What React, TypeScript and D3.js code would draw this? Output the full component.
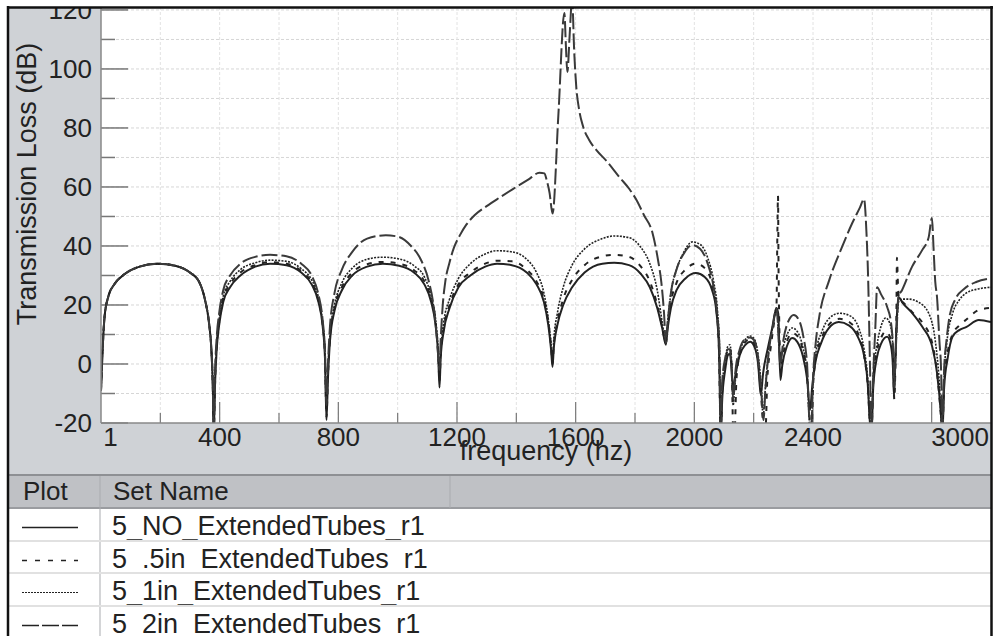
import React from "react";
import * as d3 from "d3";

type Pt = [number, number];

// frequency (Hz), transmission loss (dB)
const noExtended: Pt[] = [
  [0,-9],[5,4],[12,16],[25,23],[45,27],[80,30.5],[130,33],[190,34],[250,33.3],[300,31],[330,28],[350,22],[364,14],[372,5],[377,-8],[380,-24],
  [384,-8],[390,5],[398,13],[412,21],[435,26],[470,30],[520,33],[570,34],[625,33.5],[675,31],[710,27],[733,21],[747,13],[755,2],[760,-19],
  [765,-5],[772,8],[787,18],[812,25],[847,30],[897,33],[950,34],[1005,33.3],[1055,31],[1090,27],[1113,21],[1128,13],[1137,2],[1141,-8],
  [1145,2],[1155,11],[1175,19],[1205,26],[1245,30],[1295,33],[1335,34],[1385,33.5],[1435,31],[1468,27],[1493,21],[1508,13],[1517,5],[1522,-1],
  [1526,5],[1538,13],[1558,20],[1588,26],[1630,31],[1690,34],[1730,34.3],[1780,33.5],[1820,30.5],[1850,26],[1875,19],[1892,12],[1904,6.5],
  [1910,12],[1921,19],[1940,25],[1970,29],[2005,30.8],[2035,29.5],[2060,25],[2074,18],[2083,5],[2089,-24],
  [2094,-12],[2104,-2],[2113,3],[2120,3.5],[2126,-2],[2131,-9],[2138,-4],[2153,3],[2172,6.5],[2188,7.5],[2202,6],[2215,0],[2224,-10.5],[2232,-3],
  [2247,5],[2262,12],[2277,19],[2283,17],[2290,-5.4],[2297,0],[2312,6],[2330,8.8],[2347,7.5],[2365,3],[2380,-5],[2390,-15.6],[2397,-8],[2407,0],
  [2427,7],[2452,12],[2487,14.2],[2522,13],[2552,9],[2572,3],[2584,-6],[2592,-20],[2597,-24],[2603,-8],[2615,2],[2630,7],[2650,9.2],[2663,6],
  [2669,0],[2673,-11],[2677,0],[2682,15],[2688,22.7],[2702,20.7],[2735,17.2],[2769,12.5],[2802,5.8],[2818,-3],[2831,-16.6],[2836,-24],[2842,-8],
  [2854,2],[2870,9.2],[2893,11.5],[2916,12.5],[2959,14.9],[3000,14.2],
];

const halfInch: Pt[] = [
  [0,-9],[5,4],[12,16],[25,23],[45,27],[80,30.5],[130,33],[190,34],[250,33.3],[300,31],[330,28],[350,22],[364,14],[372,5],[377,-8],[380,-24],
  [384,-8],[390,6],[398,14],[412,22],[435,27],[470,31],[520,33.5],[570,34.5],[625,34],[675,31.5],[710,27.5],[733,21.5],[747,13.5],[755,3],[760,-18],
  [765,-4],[772,9],[787,19],[812,26],[847,31],[897,33.8],[950,34.6],[1005,34],[1055,31.8],[1090,28],[1113,22],[1128,14],[1137,3],[1141,-6],
  [1145,3],[1155,12],[1175,20],[1205,27],[1245,31],[1295,34],[1335,35],[1385,34.8],[1435,32],[1468,28],[1493,22],[1508,14],[1517,6],[1522,0],
  [1526,6],[1538,14],[1558,22],[1588,28.5],[1630,33.5],[1690,36.5],[1730,37],[1780,36.3],[1820,33],[1850,28],[1875,20],[1892,12.5],[1904,7],
  [1910,13],[1921,21],[1940,27.5],[1970,32],[2005,34],[2035,32.5],[2060,27],[2074,19],[2083,5],[2089,-24],
  [2094,-10],[2104,0],[2113,5],[2120,5.5],[2126,-1],[2131,-22],[2136,-22],[2142,-5],[2155,4],[2172,7.5],[2188,8.5],[2202,7],[2215,1],[2226,-12],
  [2234,-22],[2240,-22],[2246,-5],[2258,6],[2270,15],[2277,20],[2280,45],[2282,57],[2284,30],[2291,0],[2298,3],[2313,8],[2330,10.5],[2347,9.5],
  [2365,5],[2380,-4],[2390,-20],[2395,-24],[2400,-8],[2410,2],[2430,9],[2455,13.5],[2490,15.3],[2525,14],[2553,10],[2572,3],[2585,-8],[2592,-20],
  [2597,-24],[2603,-6],[2615,4],[2630,9],[2645,11],[2660,9],[2670,2],[2674,-12],[2678,0],[2681,15],[2683,36],[2686,28],[2690,22],[2702,21],
  [2735,17.5],[2769,14],[2802,7],[2818,-3],[2830,-16],[2836,-24],[2842,-6],[2854,4],[2870,10],[2893,13],[2916,15],[2959,18.3],[3000,19],
];

const oneInch: Pt[] = [
  [0,-9],[5,4],[12,16],[25,23],[45,27],[80,30.5],[130,33],[190,34],[250,33.3],[300,31],[330,28],[350,22],[364,14],[372,5],[377,-8],[380,-24],
  [384,-6],[390,7],[398,15],[412,23],[435,28],[470,32],[520,34.3],[570,35.2],[625,34.8],[675,32.3],[710,28.5],[733,22.5],[747,14],[755,3],[760,-16],
  [765,-2],[772,10],[787,20],[812,27.5],[847,32.5],[897,35.5],[950,36.2],[1005,35.6],[1055,33.3],[1090,29.5],[1113,23],[1128,15],[1137,4],[1141,-4],
  [1145,4],[1155,14],[1175,22],[1205,29],[1245,34],[1295,37.3],[1335,38.4],[1385,38],[1435,35.5],[1468,31],[1493,24],[1508,15],[1517,7],[1522,1],
  [1526,8],[1538,17],[1558,26],[1588,33.5],[1630,39],[1690,42.5],[1730,43.4],[1780,42.8],[1820,39.5],[1850,34],[1875,25],[1892,14],[1904,7],
  [1910,14],[1921,24],[1940,32],[1965,38],[1993,41.4],[2020,40.5],[2045,36],[2065,28],[2078,18],[2085,5],[2089,-24],
  [2094,-8],[2104,1],[2113,6],[2120,6.5],[2126,0],[2131,-14],[2136,-8],[2150,3],[2170,8],[2188,9.5],[2202,8.5],[2215,3],[2226,-8],[2232,-18],
  [2238,-10],[2250,4],[2265,13],[2277,19],[2290,2],[2300,6],[2315,10.5],[2330,12.2],[2347,11],[2365,6],[2380,-3],[2388,-20],[2393,-24],[2400,-6],
  [2410,4],[2430,11],[2455,15.5],[2490,17.2],[2525,16.3],[2553,12.5],[2572,5],[2585,-6],[2592,-20],[2597,-24],[2603,-4],[2615,6],[2630,13],
  [2645,15.6],[2658,14],[2668,8],[2674,-8],[2678,2],[2684,16],[2690,21.5],[2702,22],[2722,22],[2755,21],[2790,17.2],[2812,8],[2825,-5],[2836,-24],
  [2842,-4],[2852,8],[2870,17],[2893,21.7],[2916,24],[2960,25.5],[3000,26],
];

const twoInch: Pt[] = [
  [0,-9],[5,4],[12,16],[25,23],[45,27],[80,30.5],[130,33],[190,34],[250,33.3],[300,31],[330,28],[350,22],[364,14],[372,5],[377,-8],[380,-24],
  [384,-4],[390,9],[398,17],[412,25],[435,30],[470,34],[520,36.3],[570,37],[625,36.5],[675,34],[710,30],[733,23.5],[747,15],[755,4],[760,-14],
  [765,0],[772,13],[787,24],[812,32],[847,38],[897,42.5],[960,43.6],[1000,43.2],[1045,40],[1080,35],[1105,28],[1122,19],[1133,8],[1141,-2],
  [1145,8],[1152,20],[1160,27.5],[1175,34.5],[1190,39.5],[1209,43.5],[1232,47.3],[1260,50.5],[1300,53.5],[1345,56.5],[1387,59.2],[1440,62.5],
  [1478,64.8],[1495,64.6],[1502,62.4],[1512,58],
  [1522,51],[1542,85],[1562,119],[1567,108],[1572,99],[1580,112],[1588,124],[1595,106],[1602,94],[1612,86],[1625,80.5],[1645,76],[1670,72.5],
  [1704,68.8],[1747,63.4],[1781,59.3],[1805,55.6],[1830,50.5],[1859,44.4],[1878,35],[1889,27.5],[1898,17],[1904,7],
  [1910,14],[1921,24],[1940,32],[1965,37.5],[1993,40.3],[2020,39],[2045,34],[2065,26],[2078,16],[2085,5],[2089,-24],
  [2094,-6],[2104,2],[2113,5],[2120,5],[2126,-3],[2131,-12],[2138,-3],[2153,5],[2172,8.5],[2188,9],[2202,8],[2215,2],[2226,-10],[2233,-19],
  [2240,-8],[2252,5],[2265,13],[2277,19],[2290,0],[2300,8],[2317,14.5],[2335,16.6],[2352,15],[2368,9],[2380,0],[2388,-20],[2393,-24],
  [2400,-5],[2410,8],[2421,16],[2455,28.5],[2498,39.7],[2532,47.7],[2558,53],[2572,55.9],[2580,45],[2586,28.5],[2592,0],[2597,-24],
  [2603,-4],[2610,12],[2616,26],[2630,23.5],[2650,19.3],[2663,14],[2670,5],[2674,-8],[2678,2],[2684,16],[2688,22.7],
  [2700,25],[2734,33],[2768,38.6],[2790,43],[2801,49.5],[2806,40],[2812,28],[2818,22.7],[2826,8],[2832,-3],[2836,-24],
  [2842,-2],[2850,8],[2860,16],[2880,22],[2910,25.5],[2950,27.8],[3000,29],
];

const setNames = ["5_NO_ExtendedTubes_r1", "5_.5in_ExtendedTubes_r1", "5_1in_ExtendedTubes_r1", "5_2in_ExtendedTubes_r1"];
const seriesData = [noExtended, halfInch, oneInch, twoInch];
const dashes = ["none", "5,7", "2,1.3", "16,4"];
const widths = [2, 2, 1.6, 2];
const legendDashes = ["none", "5,8", "2,1", "17,3"];

const xLabelValues = [1, 400, 800, 1200, 1600, 2000, 2400, 3000];
const xMajorTicks = [400, 800, 1200, 1600, 2000, 2400, 2800];
const xMinorTicks = [200, 600, 1000, 1400, 1800, 2200, 2600];
const yLabelValues = [-20, 0, 20, 40, 60, 80, 100, 120];
const yMinorTicks = [-10, 10, 30, 50, 70, 90, 110];
const yGrid = [-10, 0, 10, 20, 30, 40, 50, 60, 70, 80, 90, 100, 110, 120];
const xGrid = [200, 400, 600, 800, 1000, 1200, 1400, 1600, 1800, 2000, 2200, 2400, 2600, 2800];

const FONT = "'Liberation Sans', Arial, Helvetica, sans-serif";

export default function App() {
  const left = 101, right = 991, top = 7, bottom = 423;
  const x = d3.scaleLinear().domain([0, 3000]).range([left, right]);
  const y = d3.scaleLinear().domain([-20, 121]).range([bottom, top]);
  const line = d3
    .line<Pt>()
    .x((d) => x(d[0]))
    .y((d) => y(d[1]))
    .curve(d3.curveMonotoneX);

  const gray = "#cfd2d6";
  const rowTops = [508, 541, 573, 606];
  const rowH = 33;

  return (
    <svg
      width={994}
      height={636}
      style={{ position: "absolute", left: 0, top: 0, display: "block" }}
      fontFamily={FONT}
    >
      <defs>
        <clipPath id="frame">
          <rect x={8} y={7} width={983} height={629} />
        </clipPath>
        <clipPath id="plot">
          <rect x={left} y={top} width={right - left} height={bottom - top} />
        </clipPath>
      </defs>
      <rect x={0} y={0} width={994} height={636} fill="#fff" />
      <g clipPath="url(#frame)">
        <rect x={8} y={7} width={left - 8} height={475 - 7} fill={gray} />
        <rect x={8} y={bottom} width={984} height={475 - bottom} fill={gray} />
        <rect x={left} y={top} width={right - left} height={bottom - top} fill="#fff" />

        {yGrid.map((v) => (
          <line key={"gy" + v} x1={left} x2={right} y1={y(v)} y2={y(v)} stroke="#d6d6d6" strokeWidth={1} strokeDasharray="3,2" />
        ))}
        {xGrid.map((v) => (
          <line key={"gx" + v} x1={x(v)} x2={x(v)} y1={top} y2={bottom} stroke="#e2e2e2" strokeWidth={1} strokeDasharray="3,2" />
        ))}

        {yLabelValues.map((v) => (
          <line key={"ty" + v} x1={left} x2={left + 27} y1={y(v)} y2={y(v)} stroke="#777" strokeWidth={1.5} />
        ))}
        {yMinorTicks.map((v) => (
          <line key={"tym" + v} x1={left} x2={left + 14} y1={y(v)} y2={y(v)} stroke="#777" strokeWidth={1.5} />
        ))}
        {xMajorTicks.map((v) => (
          <line key={"tx" + v} x1={x(v)} x2={x(v)} y1={bottom} y2={bottom - 21} stroke="#777" strokeWidth={1.2} />
        ))}
        {xMinorTicks.map((v) => (
          <line key={"txm" + v} x1={x(v)} x2={x(v)} y1={bottom} y2={bottom - 10} stroke="#777" strokeWidth={1.2} />
        ))}

        <g clipPath="url(#plot)">
          {seriesData.map((d, i) => (
            <path
              key={"s" + i}
              d={line(d) || ""}
              fill="none"
              stroke={i === 3 ? "#3a3a3a" : "#222"}
              strokeWidth={widths[i]}
              strokeDasharray={dashes[i]}
              strokeLinejoin="round"
            />
          ))}
        </g>

        <line x1={left} x2={left} y1={top} y2={bottom} stroke="#888" strokeWidth={1.5} />
        <line x1={left} x2={992} y1={bottom} y2={bottom} stroke="#888" strokeWidth={1.5} />

        {yLabelValues.map((v) => (
          <text key={"ly" + v} x={92} y={y(v) + 9} textAnchor="end" fontSize={26} fill="#222">
            {v}
          </text>
        ))}
        {xLabelValues.map((v, i) => (
          <text
            key={"lx" + v}
            x={i === 0 ? x(v) + 2 : i === xLabelValues.length - 1 ? 989 : x(v)}
            y={446}
            textAnchor={i === 0 ? "start" : i === xLabelValues.length - 1 ? "end" : "middle"}
            fontSize={26}
            fill="#222"
          >
            {v}
          </text>
        ))}
        <text x={(left + right) / 2} y={460} textAnchor="middle" fontSize={27} fill="#222">
          frequency (hz)
        </text>
        <text
          transform={`translate(36,${184}) rotate(-90)`}
          textAnchor="middle"
          fontSize={27}
          fill="#222"
        >
          Transmission Loss (dB)
        </text>

        <rect x={8} y={475} width={984} height={33} fill="#bfc1c5" />
        <line x1={8} x2={992} y1={475} y2={475} stroke="#8e9094" strokeWidth={2} />
        <line x1={8} x2={992} y1={508} y2={508} stroke="#9a9ca0" strokeWidth={2} />
        <line x1={100} x2={100} y1={476} y2={636} stroke="#a9abaf" strokeWidth={1} />
        <line x1={450} x2={450} y1={476} y2={508} stroke="#a9abaf" strokeWidth={1} />
        <text x={23} y={500} fontSize={26} fill="#222">Plot</text>
        <text x={113} y={500} fontSize={26} fill="#222">Set Name</text>
        {rowTops.map((t, i) => (
          <g key={"row" + i}>
            {i > 0 && <line x1={8} x2={992} y1={t} y2={t} stroke="#e1e1e1" strokeWidth={2} />}
            <line
              x1={22}
              x2={78}
              y1={t + rowH / 2 + 3}
              y2={t + rowH / 2 + 3}
              stroke="#222"
              strokeWidth={i === 2 ? 1.2 : 1.5}
              strokeDasharray={legendDashes[i]}
            />
            <text x={112} y={t + 27} fontSize={27} fill="#222">
              {setNames[i]}
            </text>
          </g>
        ))}
      </g>

      <line x1={8} x2={8} y1={6} y2={636} stroke="#111" strokeWidth={2.5} />
      <line x1={7} x2={993} y1={7.5} y2={7.5} stroke="#111" strokeWidth={2.5} />
      <line x1={991.5} x2={991.5} y1={6} y2={636} stroke="#111" strokeWidth={2.5} />
    </svg>
  );
}
